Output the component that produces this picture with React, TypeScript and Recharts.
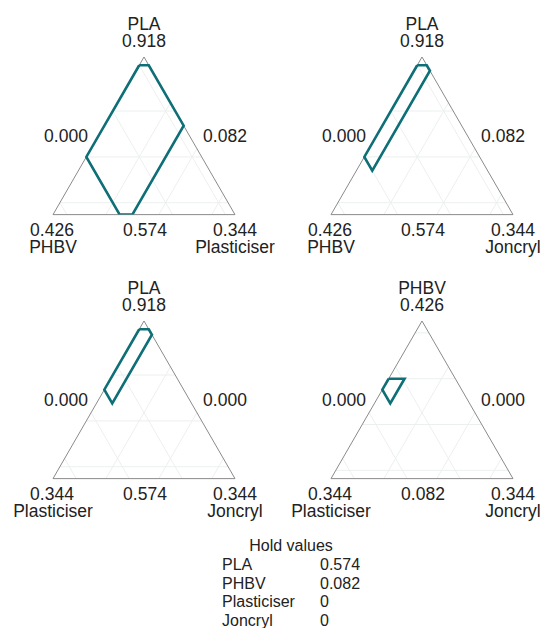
import React from 'react';
import { ScatterChart, Scatter, XAxis, YAxis, ReferenceLine } from 'recharts';

// mixture components and their ranges in the profiler
const COMPONENTS = ['PLA', 'PHBV', 'Plasticiser', 'Joncryl'];
const LOWER = [0.574, 0.082, 0, 0];
const UPPER = [0.918, 0.426, 0.344, 0.344];
const HOLD = [0.574, 0.082, 0, 0];
const GRID_VALUES = [0.1, 0.2, 0.3, 0.4, 0.5, 0.6, 0.7, 0.8, 0.9];

// each panel: component index at [top, left, right]
const PANEL_AXES = [[0, 1, 2], [0, 1, 3], [0, 2, 3], [1, 2, 3]];

// feasible region outlines, values given as [top, left, right]
const REGION_PLA_PHBV_PLAST = [[0.9, 0.1, 0], [0.9, 0.082, 0.018], [0.768, 0.082, 0.15], [0.574, 0.276, 0.15], [0.574, 0.3, 0.126], [0.7, 0.3, 0]];
const REGION_PLA_PHBV_JONCRYL = [[0.9, 0.1, 0], [0.9, 0.082, 0.018], [0.888, 0.082, 0.03], [0.67, 0.3, 0.03], [0.7, 0.3, 0]];
const REGION_PLA_PLAST_JONCRYL = [[0.9, 0.018, 0], [0.9, 0, 0.018], [0.888, 0, 0.03], [0.738, 0.15, 0.03], [0.768, 0.15, 0]];
const REGION_PHBV_PLAST_JONCRYL = [[0.3, 0.126, 0], [0.3, 0.096, 0.03], [0.246, 0.15, 0.03], [0.276, 0.15, 0]];
const REGIONS = [REGION_PLA_PHBV_PLAST, REGION_PLA_PHBV_JONCRYL, REGION_PLA_PLAST_JONCRYL, REGION_PHBV_PLAST_JONCRYL];

const H = Math.sqrt(3) / 2;
const SIDE = 182;
const PAD = 10;
const TEAL = '#0e6f77';
const FONT = '"Liberation Sans", Arial, sans-serif';
const BOXES = [
  { left: 53, top: 57 },
  { left: 331, top: 57 },
  { left: 53, top: 321 },
  { left: 331, top: 321 },
];

// barycentric (top, right) -> plot coords
const bary = (a: number, c: number) => ({ x: c + a / 2, y: a * H });

const frac = (ci: number, v: number) => (v - LOWER[ci]) / (UPPER[ci] - LOWER[ci]);

function gridSegments(axes: number[]) {
  const segs: { x: number; y: number }[][] = [];
  axes.forEach((ci, k) => {
    GRID_VALUES.forEach((v) => {
      if (v <= LOWER[ci] + 0.001 || v >= UPPER[ci] - 0.001) return;
      const f = frac(ci, v);
      if (k === 0) segs.push([bary(f, 0), bary(f, 1 - f)]);
      if (k === 1) segs.push([bary(0, 1 - f), bary(1 - f, 0)]);
      if (k === 2) segs.push([bary(0, f), bary(1 - f, f)]);
    });
  });
  return segs;
}

const EDGES = [
  [bary(0, 0), bary(0, 1)],
  [bary(0, 0), bary(1, 0)],
  [bary(1, 0), bary(0, 1)],
];

function TernaryPanel({ idx }: { idx: number }) {
  const axes = PANEL_AXES[idx];
  const box = BOXES[idx];
  const pts = REGIONS[idx].map((r) => bary(frac(axes[0], r[0]), frac(axes[2], r[2])));
  const closed = [...pts, pts[0]];
  return (
    <div style={{ position: 'absolute', left: box.left - PAD, top: box.top - PAD }}>
      <ScatterChart width={SIDE + PAD * 2} height={SIDE * H + PAD * 2} margin={{ top: PAD, right: PAD, bottom: PAD, left: PAD }}>
        <XAxis type="number" dataKey="x" domain={[0, 1]} hide allowDataOverflow />
        <YAxis type="number" dataKey="y" domain={[0, H]} hide allowDataOverflow />
        {gridSegments(axes).map((s, i) => (
          <ReferenceLine key={'g' + i} segment={s} stroke="#ebf0ef" strokeWidth={1} ifOverflow="visible" />
        ))}
        {EDGES.map((s, i) => (
          <ReferenceLine key={'e' + i} segment={s} stroke="#8a8a8a" strokeWidth={1} ifOverflow="visible" />
        ))}
        <Scatter
          data={closed}
          line={{ stroke: TEAL, strokeWidth: 2.6 }}
          shape={() => <g />}
          isAnimationActive={false}
        />
      </ScatterChart>
    </div>
  );
}

function PanelLabels({ idx }: { idx: number }) {
  const [t, l, r] = PANEL_AXES[idx];
  const { left, top } = BOXES[idx];
  const right = left + SIDE;
  const cx = left + SIDE / 2;
  const bottom = top + SIDE * H;
  const f = (v: number) => v.toFixed(3);
  return (
    <g>
      <text x={cx} y={top - 27} textAnchor="middle">{COMPONENTS[t]}</text>
      <text x={cx} y={top - 10} textAnchor="middle">{f(UPPER[t])}</text>
      <text x={left + 13} y={top + 85} textAnchor="middle">{f(LOWER[r])}</text>
      <text x={right - 10} y={top + 85} textAnchor="middle">{f(LOWER[l])}</text>
      <text x={left - 1} y={bottom + 21} textAnchor="middle">{f(UPPER[l])}</text>
      <text x={cx + 1} y={bottom + 21} textAnchor="middle">{f(LOWER[t])}</text>
      <text x={right} y={bottom + 21} textAnchor="middle">{f(UPPER[r])}</text>
      <text x={left} y={bottom + 38} textAnchor="middle">{COMPONENTS[l]}</text>
      <text x={right} y={bottom + 38} textAnchor="middle">{COMPONENTS[r]}</text>
    </g>
  );
}

export default function App() {
  return (
    <div style={{ position: 'absolute', left: 0, top: 0, width: 546, height: 628, background: '#fff', overflow: 'hidden' }}>
      {PANEL_AXES.map((_, i) => (
        <TernaryPanel key={i} idx={i} />
      ))}
      <svg width={546} height={628} style={{ position: 'absolute', left: 0, top: 0, pointerEvents: 'none' }}>
        <g fontFamily={FONT} fontSize={17.5} fill="#222">
          {PANEL_AXES.map((_, i) => (
            <PanelLabels key={i} idx={i} />
          ))}
        </g>
        <g fontFamily={FONT} fontSize={16} fill="#222">
          <text x={291} y={551} textAnchor="middle">Hold values</text>
          {COMPONENTS.map((c, i) => (
            <g key={c}>
              <text x={222} y={570 + i * 18.5}>{c}</text>
              <text x={320} y={570 + i * 18.5}>{String(HOLD[i] === 0 ? 0 : HOLD[i].toFixed(3))}</text>
            </g>
          ))}
        </g>
      </svg>
    </div>
  );
}
